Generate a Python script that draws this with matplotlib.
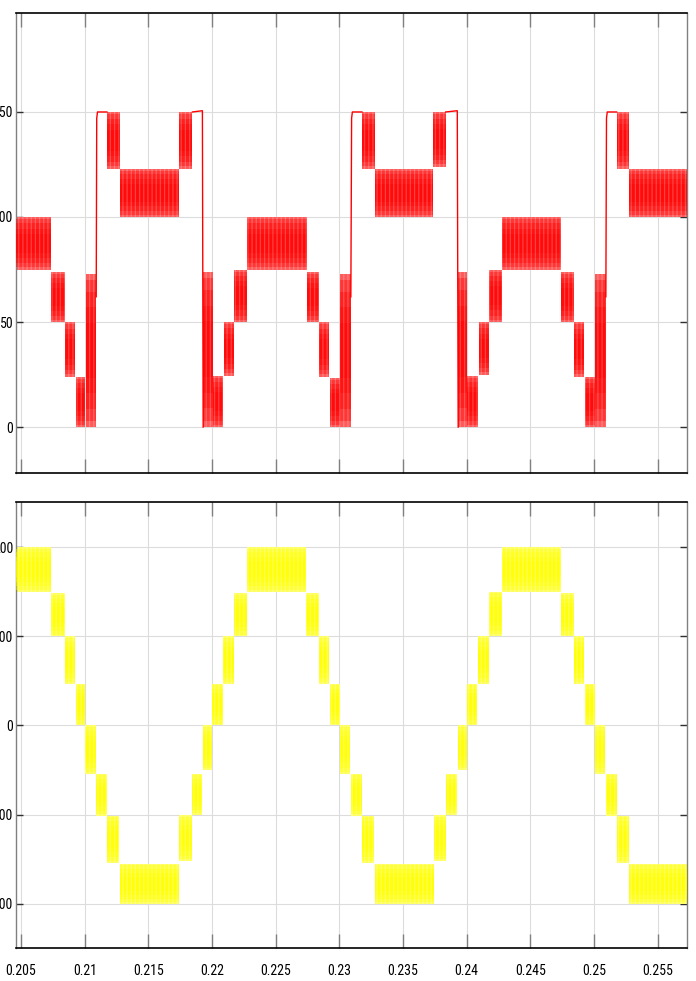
import matplotlib
matplotlib.use("Agg")
import matplotlib.pyplot as plt

plt.rcParams["font.family"] = ["Roboto Condensed", "Liberation Sans Narrow",
                               "DejaVu Sans Condensed", "Liberation Sans", "DejaVu Sans"]
plt.rcParams["hatch.linewidth"] = 0.9

# top trace: switching bands (t start, t end, low, high)
red_t0 = [0.2046, 0.20736, 0.20841, 0.20928, 0.21006, 0.21174, 0.21274, 0.21741,
          0.21930, 0.22004, 0.22093, 0.22174, 0.22276, 0.22744, 0.22841, 0.22927,
          0.23006, 0.23177, 0.23276, 0.23736, 0.23933, 0.24004, 0.24095, 0.24174,
          0.24274, 0.24739, 0.24843, 0.24930, 0.25006, 0.25177, 0.25276]
red_t1 = [0.20736, 0.20841, 0.20922, 0.21004, 0.21090, 0.21274, 0.21741, 0.21846,
          0.22004, 0.22087, 0.22174, 0.22276, 0.22744, 0.22841, 0.22922, 0.23006,
          0.23090, 0.23276, 0.23736, 0.23835, 0.24004, 0.24087, 0.24174, 0.24274,
          0.24739, 0.24843, 0.24922, 0.25006, 0.25093, 0.25276, 0.2573]
red_lo = [75, 50, 24, 0, 0, 123, 100, 123,
          0, 0, 24.5, 50, 75, 50, 24, 0,
          0, 123, 100, 124, 0, 0, 25, 50,
          75, 50, 24, 0, 0, 123, 100]
red_hi = [100, 74, 50, 24, 73, 150, 123, 150,
          74, 24.5, 50, 75, 100, 74, 50, 23.5,
          73, 150, 123, 150, 74, 24.5, 50, 75,
          100, 74, 50, 24, 73, 150, 123]

# top trace: thin line pieces around the 150 plateaus
red_line_t = [[0.21090, 0.21094, 0.21100, 0.21174],
              [0.21846, 0.21924, 0.21930],
              [0.23090, 0.23096, 0.23102, 0.23177],
              [0.23835, 0.23926, 0.23933],
              [0.25093, 0.25098, 0.25104, 0.25177]]
red_line_v = [[62, 147, 150, 150],
              [150, 150.6, 0],
              [62, 147, 150, 150],
              [150, 150.6, 0],
              [62, 147, 150, 150]]

# bottom trace: switching bands
yel_t0 = [0.2046, 0.20738, 0.20841, 0.20928, 0.21004, 0.21092, 0.21176, 0.21273,
          0.21741, 0.21842, 0.21928, 0.22001, 0.22087, 0.22174, 0.22274, 0.22739,
          0.22841, 0.22926, 0.23003, 0.23093, 0.23177, 0.23276, 0.23741, 0.23841,
          0.23930, 0.24004, 0.24091, 0.24174, 0.24274, 0.24739, 0.24843, 0.24930,
          0.25006, 0.25093, 0.25180, 0.25276]
yel_t1 = [0.20738, 0.20841, 0.20924, 0.21004, 0.21087, 0.21176, 0.21271, 0.21741,
          0.21840, 0.21922, 0.22001, 0.22083, 0.22172, 0.22272, 0.22739, 0.22841,
          0.22922, 0.23003, 0.23085, 0.23177, 0.23269, 0.23741, 0.23841, 0.23925,
          0.24004, 0.24083, 0.24174, 0.24274, 0.24739, 0.24843, 0.24922, 0.25006,
          0.25087, 0.25180, 0.25276, 0.2573]
yel_lo = [150, 100, 47, 0, -54, -101, -154, -200,
          -152, -100, -50, 0, 47, 100, 150, 100,
          47, 0, -54, -101, -154, -200, -152, -100,
          -50, 0, 47, 100, 150, 100, 47, 0,
          -54, -101, -154, -200]
yel_hi = [200, 148, 100, 47, 0, -54, -101, -155,
          -100, -54, 0, 47, 100, 148, 200, 148,
          100, 47, 0, -54, -101, -155, -100, -54,
          0, 47, 100, 150, 200, 148, 100, 47,
          0, -54, -101, -155]

x_ticks = [0.205, 0.21, 0.215, 0.22, 0.225, 0.23, 0.235, 0.24, 0.245, 0.25, 0.255]
x_labels = ["0.205", "0.21", "0.215", "0.22", "0.225", "0.23", "0.235", "0.24", "0.245", "0.25", "0.255"]
red_yticks = [0, 50, 100, 150]
yel_yticks = [-200, -100, 0, 100, 200]


def draw_bands(ax, t0, t1, lo, hi, base_col, core_col, stripe_col):
    for a, b, l, h in zip(t0, t1, lo, hi):
        ax.fill_between([a, b], l, h, facecolor=base_col, linewidth=0, zorder=2)
        # darker towards the middle of each band
        for f in [0.04, 0.12, 0.22, 0.32]:
            d = (h - l) * f
            ax.fill_between([a, b], l + d, h - d, facecolor=core_col, alpha=0.4,
                            linewidth=0, zorder=3)
        ax.fill_between([a, b], l, h, facecolor="none", edgecolor=stripe_col,
                        hatch="||||", linewidth=0, zorder=4)


def style_axis(ax, ylim, yticks):
    ax.set_xlim(0.2046, 0.2573)
    ax.set_ylim(ylim)
    ax.set_xticks(x_ticks)
    ax.set_yticks(yticks)
    ax.grid(True, color="#dcdcdc", linewidth=0.8)
    ax.set_axisbelow(True)
    ax.tick_params(axis="x", direction="in", length=10, width=1, color="#808080",
                   top=True, bottom=True, labelsize=10, pad=11)
    ax.tick_params(axis="y", direction="in", length=5, width=1, color="#303030",
                   left=True, right=True, labelsize=10, pad=2)
    for s in ["top", "bottom"]:
        ax.spines[s].set_color("black")
        ax.spines[s].set_linewidth(1.2)
    for s in ["left", "right"]:
        ax.spines[s].set_color("#808080")
        ax.spines[s].set_linewidth(1.0)


fig = plt.figure(figsize=(6.96, 9.81), dpi=100)
ax1 = fig.add_axes([0.023, 0.5178, 0.964, 0.4689])
ax2 = fig.add_axes([0.023, 0.0334, 0.964, 0.4549])

draw_bands(ax1, red_t0, red_t1, red_lo, red_hi, "#ff5a5a", "#ff0000", (1, 1, 1, 0.22))
for t, v in zip(red_line_t, red_line_v):
    ax1.plot(t, v, color="#ff0000", linewidth=1.0, zorder=5)
style_axis(ax1, (-21.9, 197.1), red_yticks)
ax1.set_xticklabels([])

draw_bands(ax2, yel_t0, yel_t1, yel_lo, yel_hi, "#ffff5a", "#ffff00", (1, 1, 1, 0.28))
style_axis(ax2, (-249.7, 250.5), yel_yticks)
ax2.set_xticklabels(x_labels)

fig.savefig("out.png", dpi=100)
